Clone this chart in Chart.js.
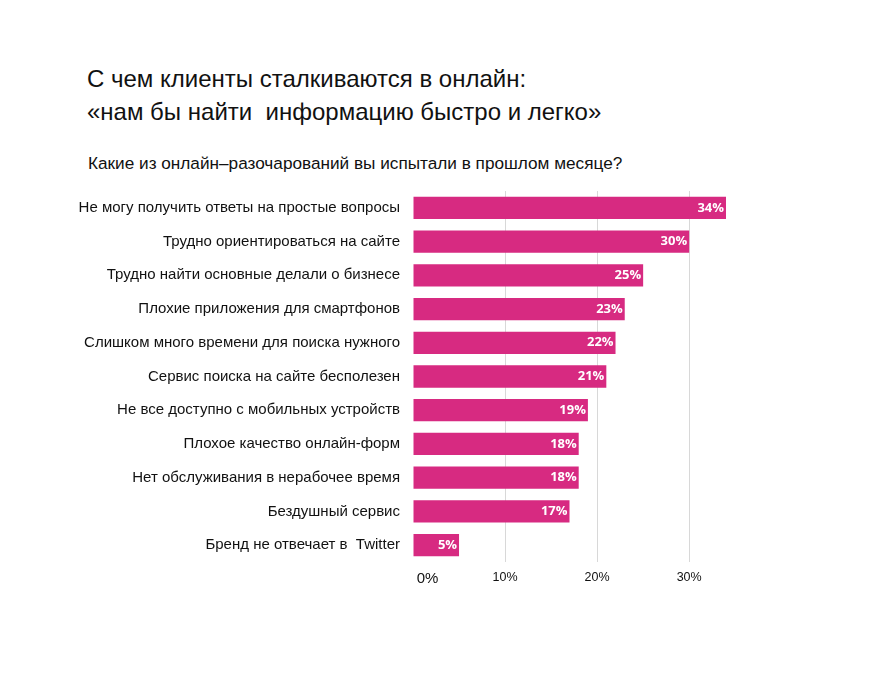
<!DOCTYPE html>
<html><head><meta charset="utf-8">
<script src="https://cdn.jsdelivr.net/npm/chart.js@4"></script>
<style>
html,body{margin:0;padding:0;background:#fff;}
#wrap{position:relative;width:877px;height:680px;}
.t{position:absolute;font-family:"Liberation Sans",Arial,sans-serif;color:#111;white-space:pre;}
#t1{left:87px;top:65px;font-size:24px;}
#t2{left:87px;top:98px;font-size:24px;}
#t3{left:88px;top:153px;font-size:17.2px;}
canvas{position:absolute;left:0;top:0;}
</style></head>
<body><div id="wrap">
<div class="t" id="t1">С чем клиенты сталкиваются в онлайн:</div>
<div class="t" id="t2">«нам бы найти  информацию быстро и легко»</div>
<div class="t" id="t3">Какие из онлайн–разочарований вы испытали в прошлом месяце?</div>
<canvas id="c" width="877" height="680"></canvas>
</div>
<script>
const categories = [
  "Не могу получить ответы на простые вопросы",
  "Трудно ориентироваться на сайте",
  "Трудно найти основные делали о бизнесе",
  "Плохие приложения для смартфонов",
  "Слишком много времени для поиска нужного",
  "Сервис поиска на сайте бесполезен",
  "Не все доступно с мобильных устройств",
  "Плохое качество онлайн-форм",
  "Нет обслуживания в нерабочее время",
  "Бездушный сервис",
  "Бренд не отвечает в  Twitter"
];
const values = [34, 30, 25, 23, 22, 21, 19, 18, 18, 17, 5];
const tickValues = [0, 10, 20, 30];
const tickLabels = ["0%", "10%", "20%", "30%"];

const barLabels = {
  id: 'barLabels',
  afterDatasetsDraw(chart) {
    const ctx = chart.ctx;
    const meta = chart.getDatasetMeta(0);
    ctx.save();
    ctx.fillStyle = '#ffffff';
    ctx.font = 'bold 13px "Open Sans", Arial, sans-serif';
    ctx.textAlign = 'right';
    ctx.textBaseline = 'middle';
    meta.data.forEach((bar, i) => {
      ctx.fillText(values[i] + '%', bar.x - 2, bar.y);
    });
    ctx.restore();
  }
};

new Chart(document.getElementById('c'), {
  type: 'bar',
  data: {
    labels: categories,
    datasets: [{
      data: values,
      backgroundColor: '#d72a81',
      borderWidth: 0,
      barPercentage: 0.66,
      categoryPercentage: 1.0
    }]
  },
  options: {
    indexAxis: 'y',
    responsive: false,
    animation: false,
    layout: { padding: { top: 191, right: 151, left: 0, bottom: 0 } },
    plugins: { legend: { display: false }, tooltip: { enabled: false } },
    scales: {
      x: {
        min: 0, max: 34,
        border: { display: false },
        afterBuildTicks(scale) { scale.ticks = tickValues.map(v => ({ value: v })); },
        afterFit(scale) { scale.height = 118; },
        grid: {
          drawTicks: false,
          color: ctx => (ctx.tick && ctx.tick.value === 0) ? 'rgba(0,0,0,0)' : '#d8d8d8',
          lineWidth: 1
        },
        ticks: {
          padding: 8,
          color: '#111',
          callback: (v) => {
            const i = tickValues.indexOf(v);
            return i === 0 ? '       ' + tickLabels[i] : tickLabels[i];
          },
          font: ctx => ({ family: '"Liberation Sans", Arial, sans-serif', size: (ctx.tick && ctx.tick.value === 0) ? 15 : 12.5 })
        }
      },
      y: {
        border: { display: false },
        afterFit(scale) { scale.width = 413; },
        grid: { display: false, drawTicks: false },
        ticks: {
          padding: 13,
          color: '#111',
          font: { family: '"Liberation Sans", Arial, sans-serif', size: 15 }
        }
      }
    }
  },
  plugins: [barLabels]
});
</script>
</body></html>
